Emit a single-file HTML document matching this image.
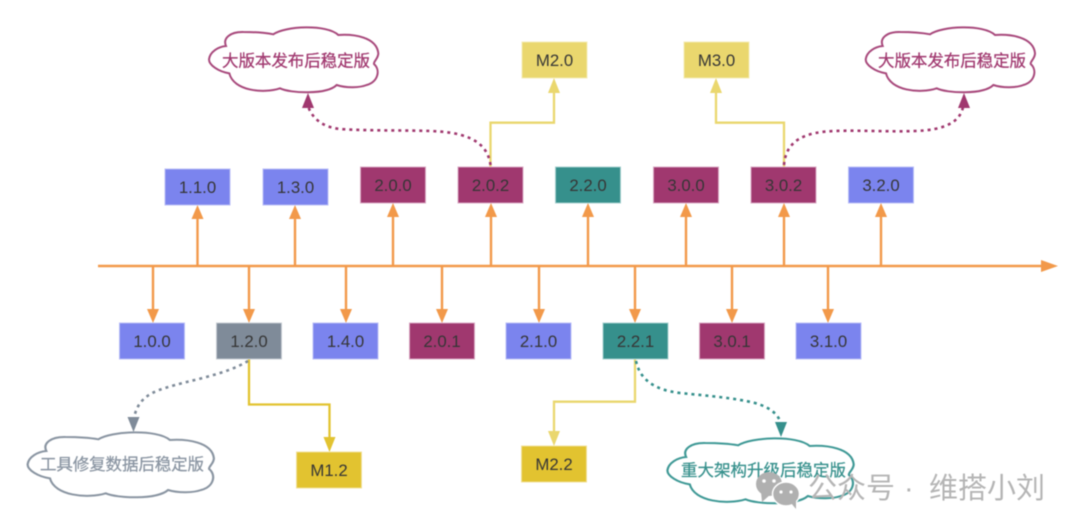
<!DOCTYPE html>
<html lang="zh"><head><meta charset="utf-8"><style>
html,body{margin:0;padding:0;background:#fff}
svg{display:block;filter:blur(.45px)}
text{font-family:"Liberation Sans","Noto Sans CJK SC",sans-serif}
.l{font-size:16.8px;fill:#363636;text-anchor:middle}
.c{font-size:16.5px;stroke-width:.25px}
</style></head><body>
<svg width="1080" height="530" viewBox="0 0 1080 530" xmlns="http://www.w3.org/2000/svg">
<defs>
<path id="cloud" d="M57 118C60 95 85 80 108 78C98 55 120 35 160 36C190 36 225 38 250 43C285 18 410 12 445 45C490 42 560 50 565 100C565 115 550 125 552 132C572 150 565 185 530 195C510 203 470 205 440 195C410 225 300 220 270 205C220 222 130 212 118 160C85 155 57 135 57 118Z"/>
</defs>

<!-- axis -->
<g stroke="#F2994A" stroke-width="2.4" fill="none">
<path d="M98 266H1044"/>
<path d="M197.5 266V218M295 266V218M393 266V216M491 266V216M588 266V216M686 266V216M784 266V216M881 266V216"/>
<path d="M153 266V310M249 266V310M346 266V310M442 266V310M539 266V310M635 266V310M732 266V310M828 266V310"/>
</g>
<g fill="#F2994A">
<polygon points="1058,266 1041,260 1041,272"/>
<polygon points="197.5,205 191.500,219 203.500,219"/><polygon points="295,205 289,219 301,219"/>
<polygon points="393,203 387,217 399,217"/><polygon points="491,203 485,217 497,217"/>
<polygon points="588,203 582,217 594,217"/><polygon points="686,203 680,217 692,217"/>
<polygon points="784,203 778,217 790,217"/><polygon points="881,203 875,217 887,217"/>
<polygon points="153,323 147,309 159,309"/><polygon points="249,323 243,309 255,309"/>
<polygon points="346,323 340,309 352,309"/><polygon points="442,323 436,309 448,309"/>
<polygon points="539,323 533,309 545,309"/><polygon points="635,323 629,309 641,309"/>
<polygon points="732,323 726,309 738,309"/><polygon points="828,323 822,309 834,309"/>
</g>

<!-- elbow connectors -->
<g fill="none" stroke-width="2.300">
<path d="M490.500 167V122.700H554V92" stroke="#EAD76E"/>
<path d="M784 167V122.700H716V92" stroke="#EAD76E"/>
<path d="M249 359V404.500H329.500V439" stroke="#E2C330"/>
<path d="M635 359V401.700H554V433" stroke="#EAD76E"/>
</g>
<polygon points="554,78 548,93 560,93" fill="#EAD76E"/>
<polygon points="716,78 710,93 722,93" fill="#EAD76E"/>
<polygon points="329.500,452 323.500,437 335.500,437" fill="#E2C330"/>
<polygon points="554,446 548,431 560,431" fill="#EAD76E"/>

<!-- dotted connectors -->
<g fill="none" stroke-width="2.600" stroke-dasharray="3 4">
<path d="M490.500 165C487 138 460 132 430 131C400 130 370 131 340 129C322 127 312 118 308 106" stroke="#A0386F"/>
<path d="M784 165C786 140 805 132 835 131C860 130 890 132 915 131C945 130 960 122 963 107" stroke="#A0386F"/>
<path d="M248 361C225 375 190 380 165 388C145 394 137 403 134 418" stroke="#7F8B99"/>
<path d="M636 361C640 380 655 390 680 393C710 396 735 398 755 403C772 408 778 415 781 423" stroke="#36908C"/>
</g>
<polygon points="308,93 302,108 314,108" fill="#A0386F"/>
<polygon points="964,93 958,108 970,108" fill="#A0386F"/>
<polygon points="133.500,432 127.500,417 139.500,417" fill="#7F8B99"/>
<polygon points="781,437 775,422 787,422" fill="#36908C"/>

<!-- boxes -->
<g stroke-width="1">
<g fill="#7B84EE" stroke="#B9BEF7">
<rect x="165" y="169" width="65" height="36"/><rect x="263" y="169" width="65" height="36"/><rect x="848.500" y="167" width="65" height="36"/>
<rect x="119.500" y="323" width="65" height="36"/><rect x="313" y="323" width="65" height="36"/><rect x="506" y="323" width="65" height="36"/><rect x="796" y="323" width="65" height="36"/>
</g>
<g fill="#A0386F" stroke="#D9A9C3">
<rect x="360.500" y="167" width="65" height="36"/><rect x="458" y="167" width="65" height="36"/><rect x="653.500" y="167" width="65" height="36"/><rect x="751" y="167" width="65" height="36"/>
<rect x="409.500" y="323" width="65" height="36"/><rect x="699.500" y="323" width="65" height="36"/>
</g>
<g fill="#36908C" stroke="#A5D0CE"><rect x="555.500" y="167" width="65" height="36"/><rect x="603" y="323" width="65" height="36"/></g>
<rect x="216.500" y="323" width="65" height="36" fill="#7F8B99" stroke="#C5CBD2"/>
<g fill="#EAD76E" stroke="#F4EBB5"><rect x="522" y="42" width="65" height="36"/><rect x="684" y="42" width="65" height="36"/></g>
<g fill="#E2C330" stroke="#F1E198"><rect x="296.500" y="452" width="65" height="36"/><rect x="521.500" y="446" width="65" height="36"/></g>
</g>
<g>
<text class="l" x="197.500" y="193">1.1.0</text><text class="l" x="295.500" y="193">1.3.0</text>
<text class="l" x="393" y="191">2.0.0</text><text class="l" x="490.500" y="191">2.0.2</text>
<text class="l" x="588" y="191">2.2.0</text><text class="l" x="686" y="191">3.0.0</text>
<text class="l" x="783.500" y="191">3.0.2</text><text class="l" x="881" y="191">3.2.0</text>
<text class="l" x="152" y="347">1.0.0</text><text class="l" x="249" y="347">1.2.0</text>
<text class="l" x="345.500" y="347">1.4.0</text><text class="l" x="442" y="347">2.0.1</text>
<text class="l" x="538.500" y="347">2.1.0</text><text class="l" x="635.500" y="347">2.2.1</text>
<text class="l" x="732" y="347">3.0.1</text><text class="l" x="828.500" y="347">3.1.0</text>
<text class="l" x="554.500" y="66">M2.0</text><text class="l" x="716.500" y="66">M3.0</text>
<text class="l" x="329" y="476">M1.2</text><text class="l" x="554" y="470">M2.2</text>
</g>

<!-- clouds -->
<g fill="#fff" stroke-width="6">
<use href="#cloud" transform="translate(190 20) scale(.3333)" stroke="#A8497C"/>
<use href="#cloud" transform="translate(846.700 20) scale(.3333)" stroke="#A8497C"/>
<use href="#cloud" transform="translate(6.700 425) scale(.3667 .3333)" stroke="#8A95A2"/>
<use href="#cloud" transform="translate(646.500 431) scale(.3667 .3333)" stroke="#3F9996"/>
</g>
<text class="c" x="222" y="66.500" fill="#A0386F" stroke="#A0386F" textLength="148">大版本发布后稳定版</text>
<text class="c" x="878" y="66.500" fill="#A0386F" stroke="#A0386F" textLength="148">大版本发布后稳定版</text>
<text class="c" x="40" y="470" fill="#8A95A2" stroke="#8A95A2" textLength="164">工具修复数据后稳定版</text>
<text class="c" x="681" y="476" fill="#36908C" stroke="#36908C" textLength="165">重大架构升级后稳定版</text>

<!-- watermark -->
<g fill="#B0B0B0">
<ellipse cx="769" cy="484" rx="13" ry="12"/>
<polygon points="761,492 762,502 771,494"/>
<ellipse cx="786" cy="494" rx="13.500" ry="12" stroke="#fff" stroke-width="1.500"/>
<polygon points="791,503 796,509 796,498"/>
</g>
<g fill="#fff"><circle cx="764" cy="481" r="1.800"/><circle cx="774" cy="481" r="1.800"/><circle cx="781" cy="492" r="1.600"/><circle cx="791" cy="492" r="1.600"/></g>
<g fill="#B5B5B5" font-size="29">
<text x="808" y="498" textLength="87">公众号</text>
<text x="904" y="498">·</text>
<text x="929" y="498" textLength="116">维搭小刘</text>
</g>
</svg>
</body></html>
